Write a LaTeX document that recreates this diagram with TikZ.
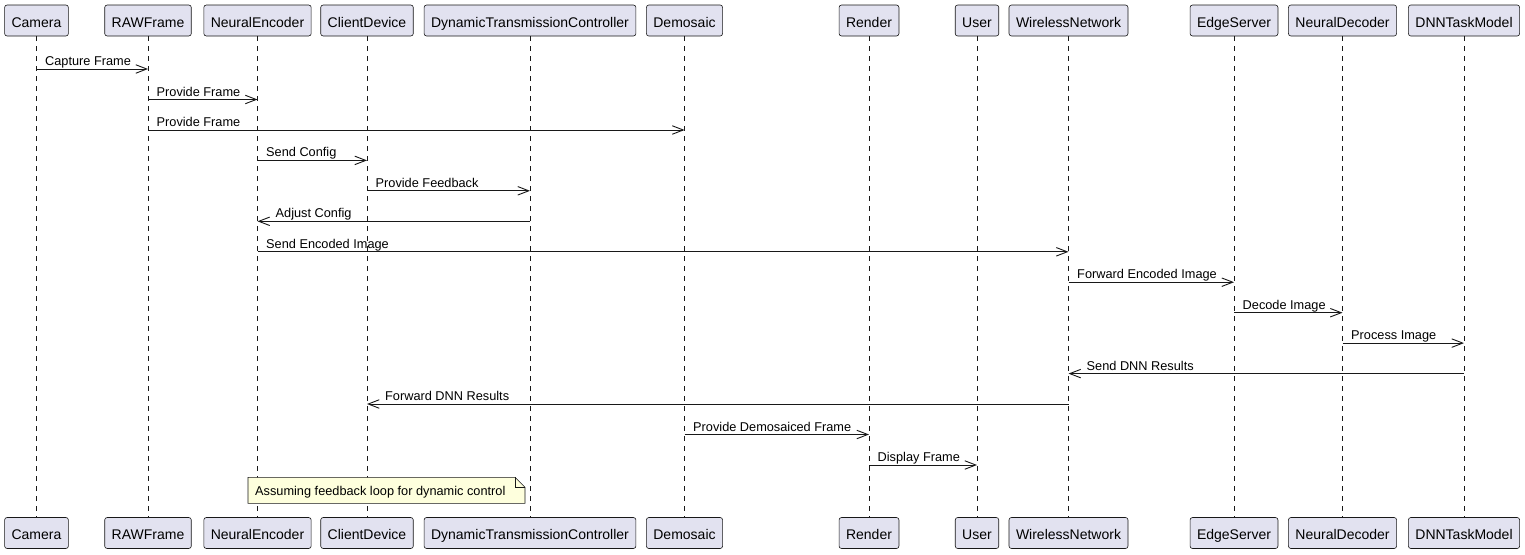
\documentclass[tikz,border=0pt]{standalone}
\usepackage{fontspec}
\setmainfont{Liberation Sans}
\usetikzlibrary{arrows.meta}
\definecolor{pline}{HTML}{181818}
\definecolor{pfill}{HTML}{E2E2F0}
\definecolor{nfill}{HTML}{FEFFDD}
\tikzset{
  part/.style={draw=pline, fill=pfill, line width=0.6pt, rounded corners=2.5pt,
    minimum height=31pt, inner xsep=7pt, inner ysep=0pt, text height=13.6pt, text depth=0pt,
    font=\fontsize{14pt}{16pt}\selectfont},
  life/.style={draw=pline, line width=0.5pt, dash pattern=on 5pt off 5pt},
  msg/.style={draw=pline, line width=0.9pt, -{Straight Barb[length=11pt,width=8.5pt,line width=0.9pt]}},
  lbl/.style={inner sep=0pt, font=\fontsize{12.75pt}{15pt}\selectfont},
}
\newcommand\msgLR[5]{%
  \draw[msg] (#1T |- 0,#3) -- (#2T |- 0,#3);
  \path (#1T |- 0,#3) ++(8.5,-3.5) node[lbl, anchor=base west] (#5) {#4};}
\newcommand\msgRL[5]{%
  \draw[msg] (#1T |- 0,#3) -- (#2T |- 0,#3);
  \path (#2T |- 0,#3) ++(18,-3.5) node[lbl, anchor=base west] (#5) {#4};}
\begin{document}
\begin{tikzpicture}[x=1pt, y=-1pt]
\useasboundingbox[fill=white] (0,0) rectangle (1525,554);
% participants
\foreach \n/\x/\t in {cam/36.5/Camera, raw/148/RAWFrame, enc/257.5/NeuralEncoder,
   cli/367/ClientDevice, dyn/530/DynamicTransmissionController, dem/684.5/Demosaic,
   ren/869/Render, usr/977/User, wir/1068.5/WirelessNetwork, edg/1234/EdgeServer,
   dec/1342.5/NeuralDecoder, dnn/1464/DNNTaskModel}{
  \node[part] (\n T) at (\x,20.5) {\t};
  \node[part] (\n B) at (\x,533) {\t};
  \draw[life] (\n T.south) -- (\n B.north);
}
% note
\draw[draw=pline, fill=nfill, line width=0.6pt] (248,477.3) -- (515,477.3) -- (525,487.3) -- (525,503.3) -- (248,503.3) -- cycle;
\draw[draw=pline, line width=0.6pt] (515,477.3) -- (515,487.3) -- (525,487.3);
\node[lbl, anchor=base west] (note) at (255,495.7) {Assuming feedback loop for dynamic control};
% messages
\msgLR{cam}{raw}{69}{Capture Frame}{m1}
\msgLR{raw}{enc}{99.5}{Provide Frame}{m2}
\msgLR{raw}{dem}{130}{Provide Frame}{m3}
\msgLR{enc}{cli}{160.4}{Send Config}{m4}
\msgLR{cli}{dyn}{190.8}{Provide Feedback}{m5}
\msgRL{dyn}{enc}{221.3}{Adjust Config}{m6}
\msgLR{enc}{wir}{251.8}{Send Encoded Image}{m7}
\msgLR{wir}{edg}{282.2}{Forward Encoded Image}{m8}
\msgLR{edg}{dec}{312.7}{Decode Image}{m9}
\msgLR{dec}{dnn}{343.1}{Process Image}{m10}
\msgRL{dnn}{wir}{373.6}{Send DNN Results}{m11}
\msgRL{wir}{cli}{404}{Forward DNN Results}{m12}
\msgLR{dem}{ren}{434.5}{Provide Demosaiced Frame}{m13}
\msgLR{ren}{usr}{465}{Display Frame}{m14}
\end{tikzpicture}
\end{document}
